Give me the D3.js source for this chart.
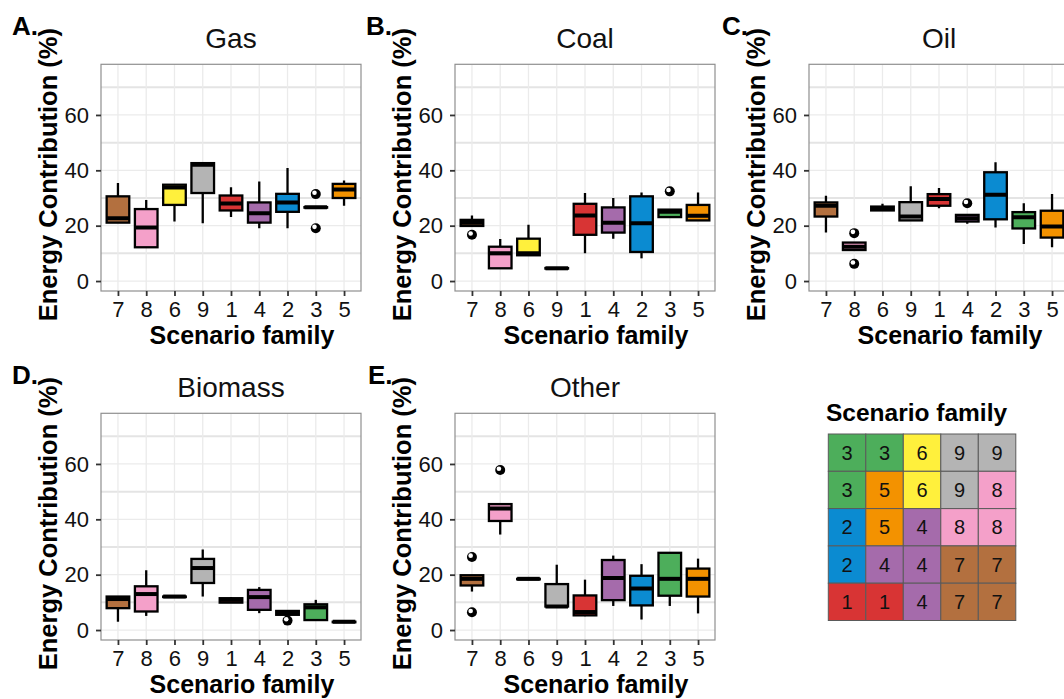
<!DOCTYPE html>
<html>
<head>
<meta charset="utf-8">
<script src="https://cdn.jsdelivr.net/npm/d3@7"></script>
<style>
    body { margin: 0; background: #fff; }
    text { font-family: "Liberation Sans", Arial, sans-serif; }
</style>
</head>
<body>
<svg id="chart" width="1064" height="699"></svg>
<script>

// scenario families, in plotting order
var families = [ '7', '8', '6', '9', '1', '4', '2', '3', '5' ];

var colorKeys = [ '1', '2', '3', '4', '5', '6', '7', '8', '9' ];
var colorValues = [ '#d83434', '#0b8bd1', '#4dae5b', '#a56bab', '#f39200', '#fff03c', '#b3703f', '#f4a0c9', '#b4b4b4' ];

var yTicks = [ 0, 20, 40, 60 ];
var yMinorTicks = [ 10, 30, 50, 70 ];

var panelNames = [ 'Gas', 'Coal', 'Oil', 'Biomass', 'Other' ];
var panelLetters = [ 'A.', 'B.', 'C.', 'D.', 'E.' ];

// [ lower whisker, q1, median, q3, upper whisker ] per family (order as families)
var gasStats = [
    [ 21.0, 21.1, 22.7, 30.6, 35.4 ],
    [ 12.2, 12.2, 19.3, 26.0, 29.3 ],
    [ 21.5, 27.5, 33.8, 34.8, 35.0 ],
    [ 20.9, 31.8, 42.0, 42.6, 42.6 ],
    [ 23.1, 25.5, 28.0, 30.9, 33.9 ],
    [ 19.1, 21.1, 24.5, 28.4, 36.0 ],
    [ 19.1, 25.0, 28.4, 31.5, 40.8 ],
    [ 26.7, 26.7, 26.7, 26.7, 26.7 ],
    [ 27.2, 30.0, 33.1, 35.1, 36.3 ]
];
var gasOutliers = [ [ '3', 31.4 ], [ '3', 19.1 ] ];

var coalStats = [
    [ 19.9, 19.9, 21.1, 22.1, 23.7 ],
    [ 4.6, 4.6, 10.0, 12.4, 15.2 ],
    [ 9.3, 9.3, 10.0, 15.3, 20.3 ],
    [ 4.5, 4.5, 4.6, 4.7, 4.7 ],
    [ 10.0, 16.7, 23.7, 27.9, 31.8 ],
    [ 15.3, 17.5, 21.1, 26.6, 30.0 ],
    [ 8.2, 10.5, 20.9, 30.6, 32.0 ],
    [ 23.1, 23.1, 25.0, 25.8, 25.8 ],
    [ 21.9, 21.9, 23.6, 27.5, 32.0 ]
];
var coalOutliers = [ [ '7', 16.7 ], [ '3', 32.4 ] ];

var oilStats = [
    [ 17.5, 23.3, 27.2, 28.4, 30.8 ],
    [ 11.2, 11.2, 12.4, 13.9, 13.9 ],
    [ 25.5, 25.5, 26.2, 26.9, 27.9 ],
    [ 21.9, 21.9, 23.3, 28.5, 34.2 ],
    [ 26.3, 27.2, 29.6, 31.4, 33.6 ],
    [ 20.7, 21.5, 22.7, 23.9, 23.9 ],
    [ 19.3, 22.3, 31.2, 39.3, 42.9 ],
    [ 13.4, 19.0, 23.0, 24.9, 28.1 ],
    [ 12.2, 15.7, 19.7, 25.4, 31.4 ]
];
var oilOutliers = [ [ '8', 17.3 ], [ '8', 6.2 ], [ '4', 28.1 ] ];

var biomassStats = [
    [ 3.0, 7.9, 11.2, 12.1, 12.1 ],
    [ 5.1, 6.7, 13.0, 15.8, 21.6 ],
    [ 12.1, 12.1, 12.1, 12.1, 12.1 ],
    [ 12.1, 17.0, 22.4, 25.7, 29.1 ],
    [ 9.9, 9.9, 10.9, 11.5, 11.9 ],
    [ 6.1, 7.3, 11.9, 14.5, 15.5 ],
    [ 5.5, 5.5, 6.3, 6.9, 6.9 ],
    [ 3.6, 3.6, 8.2, 9.3, 10.9 ],
    [ 3.0, 3.0, 3.0, 3.0, 3.0 ]
];
var biomassOutliers = [ [ '2', 3.4 ] ];

var otherStats = [
    [ 13.9, 16.1, 18.5, 19.8, 19.8 ],
    [ 34.5, 39.4, 43.9, 45.5, 45.5 ],
    [ 18.5, 18.5, 18.5, 18.5, 18.5 ],
    [ 8.5, 8.5, 8.5, 16.6, 23.6 ],
    [ 5.0, 5.3, 6.5, 12.5, 18.2 ],
    [ 8.7, 10.8, 18.8, 25.3, 26.9 ],
    [ 3.8, 8.9, 15.0, 19.6, 23.8 ],
    [ 8.7, 12.4, 18.5, 27.9, 27.9 ],
    [ 6.0, 12.1, 18.5, 22.2, 25.8 ]
];
var otherOutliers = [ [ '7', 26.4 ], [ '7', 6.4 ], [ '8', 57.8 ] ];

// legend grid, rows top to bottom
var legendGrid = [
    [ '3', '3', '6', '9', '9' ],
    [ '3', '5', '6', '9', '8' ],
    [ '2', '5', '4', '8', '8' ],
    [ '2', '4', '4', '7', '7' ],
    [ '1', '1', '4', '7', '7' ]
];

var color = d3.scaleOrdinal()
    .domain( colorKeys )
    .range( colorValues );

var svg = d3.select( '#chart' );

svg.append( 'rect' )
    .attr( 'width', 1064 )
    .attr( 'height', 699 )
    .style( 'fill', '#fff' );

var pw = 260,
    ph = 226.7;

var layout = [
    { x: 101, y: 64.3, lx: 12 },
    { x: 455, y: 64.3, lx: 366 },
    { x: 809, y: 64.3, lx: 722 },
    { x: 101, y: 413.3, lx: 12 },
    { x: 455, y: 413.3, lx: 368 }
];

var allStats = [ gasStats, coalStats, oilStats, biomassStats, otherStats ];
var allOutliers = [ gasOutliers, coalOutliers, oilOutliers, biomassOutliers, otherOutliers ];

for ( var i = 0; i < 5; i ++ ) {

    drawPanel( i, allStats[ i ], allOutliers[ i ] );

}

drawLegend();

function drawPanel ( i, stats, outliers ) {

    var left = layout[ i ].x,
        top = layout[ i ].y;

    var x = d3.scalePoint()
        .domain( families )
        .range([ left, left + pw ])
        .padding( 0.6 );

    var y = d3.scaleLinear()
        .domain([ -3.6, 78.3 ])
        .range([ top + ph, top ]);

    var bw = x.step() * 0.8;

    var g = svg.append( 'g' );

    g.append( 'defs' ).append( 'clipPath' )
        .attr( 'id', 'clip' + i )
        .append( 'rect' )
        .attr( 'x', left )
        .attr( 'y', top )
        .attr( 'width', pw )
        .attr( 'height', ph );

    var plot = g.append( 'g' )
        .attr( 'clip-path', 'url(#clip' + i + ')' );

    // grid

    plot.selectAll( '.minor' )
        .data( yMinorTicks )
        .enter().append( 'line' )
        .attr( 'x1', left )
        .attr( 'x2', left + pw )
        .attr( 'y1', function ( d ) { return y( d ) } )
        .attr( 'y2', function ( d ) { return y( d ) } )
        .style( 'stroke', '#e4e4e4' )
        .style( 'stroke-width', 2 );

    plot.selectAll( '.major' )
        .data( yTicks )
        .enter().append( 'line' )
        .attr( 'x1', left )
        .attr( 'x2', left + pw )
        .attr( 'y1', function ( d ) { return y( d ) } )
        .attr( 'y2', function ( d ) { return y( d ) } )
        .style( 'stroke', '#ebebeb' )
        .style( 'stroke-width', 1.3 );

    plot.selectAll( '.vgrid' )
        .data( families )
        .enter().append( 'line' )
        .attr( 'x1', function ( d ) { return x( d ) } )
        .attr( 'x2', function ( d ) { return x( d ) } )
        .attr( 'y1', top )
        .attr( 'y2', top + ph )
        .style( 'stroke', '#ebebeb' )
        .style( 'stroke-width', 1.3 );

    // boxes

    var box = plot.selectAll( '.box' )
        .data( families )
        .enter().append( 'g' );

    box.append( 'line' )
        .attr( 'x1', function ( d ) { return x( d ) } )
        .attr( 'x2', function ( d ) { return x( d ) } )
        .attr( 'y1', function ( d, j ) { return y( stats[ j ][ 0 ] ) } )
        .attr( 'y2', function ( d, j ) { return y( stats[ j ][ 4 ] ) } )
        .style( 'stroke', '#000' )
        .style( 'stroke-width', 2.3 );

    box.append( 'rect' )
        .attr( 'x', function ( d ) { return x( d ) - bw / 2 } )
        .attr( 'width', bw )
        .attr( 'y', function ( d, j ) { return y( stats[ j ][ 3 ] ) } )
        .attr( 'height', function ( d, j ) { return Math.max( 0.5, y( stats[ j ][ 1 ] ) - y( stats[ j ][ 3 ] ) ) } )
        .style( 'fill', function ( d ) { return color( d ) } )
        .style( 'stroke', '#000' )
        .style( 'stroke-width', 2.3 );

    box.append( 'line' )
        .attr( 'x1', function ( d ) { return x( d ) - bw / 2 } )
        .attr( 'x2', function ( d ) { return x( d ) + bw / 2 } )
        .attr( 'y1', function ( d, j ) { return y( stats[ j ][ 2 ] ) } )
        .attr( 'y2', function ( d, j ) { return y( stats[ j ][ 2 ] ) } )
        .style( 'stroke', '#000' )
        .style( 'stroke-width', 4 );

    // outliers

    var pts = plot.selectAll( '.outlier' )
        .data( outliers )
        .enter().append( 'g' )
        .attr( 'transform', function ( d ) { return 'translate(' + x( d[ 0 ] ) + ',' + y( d[ 1 ] ) + ')' } );

    pts.append( 'circle' )
        .attr( 'r', 5 )
        .style( 'fill', '#000' );

    pts.append( 'circle' )
        .attr( 'cx', -1.3 )
        .attr( 'cy', -1.3 )
        .attr( 'r', 2.3 )
        .style( 'fill', '#fff' );

    // panel border

    g.append( 'rect' )
        .attr( 'x', left )
        .attr( 'y', top )
        .attr( 'width', pw )
        .attr( 'height', ph )
        .style( 'fill', 'none' )
        .style( 'stroke', '#8f8f8f' )
        .style( 'stroke-width', 1.2 );

    // axes

    var xAxis = g.append( 'g' )
        .attr( 'transform', 'translate(0,' + ( top + ph ) + ')' )
        .call( d3.axisBottom( x ).tickSize( 5 ).tickPadding( 5 ) );

    var yAxis = g.append( 'g' )
        .attr( 'transform', 'translate(' + left + ',0)' )
        .call( d3.axisLeft( y ).tickValues( yTicks ).tickSize( 5 ).tickPadding( 7 ) );

    [ xAxis, yAxis ].forEach( function ( a ) {

        a.select( '.domain' ).remove();
        a.selectAll( 'line' )
            .style( 'stroke', '#333' )
            .style( 'stroke-width', 1.8 );
        a.selectAll( 'text' )
            .style( 'font-family', '"Liberation Sans", Arial, sans-serif' )
            .style( 'font-size', '22px' )
            .style( 'fill', '#111' );

    });

    // titles

    g.append( 'text' )
        .attr( 'x', left + pw / 2 )
        .attr( 'y', top - 16 )
        .attr( 'text-anchor', 'middle' )
        .style( 'font-size', '28px' )
        .style( 'fill', '#111' )
        .text( panelNames[ i ] );

    g.append( 'text' )
        .attr( 'x', layout[ i ].lx )
        .attr( 'y', top - 29 )
        .style( 'font-size', '26px' )
        .style( 'font-weight', 'bold' )
        .style( 'fill', '#000' )
        .text( panelLetters[ i ] );

    g.append( 'text' )
        .attr( 'x', left + pw / 2 + 11 )
        .attr( 'y', top + ph + 53 )
        .attr( 'text-anchor', 'middle' )
        .style( 'font-size', '25px' )
        .style( 'font-weight', 'bold' )
        .style( 'fill', '#000' )
        .text( 'Scenario family' );

    g.append( 'text' )
        .attr( 'transform', 'translate(' + ( left - 44 ) + ',' + ( top + ph / 2 - 3 ) + ') rotate(-90)' )
        .attr( 'text-anchor', 'middle' )
        .style( 'font-size', '25.5px' )
        .style( 'font-weight', 'bold' )
        .style( 'fill', '#000' )
        .text( 'Energy Contribution (%)' );

}

function drawLegend () {

    var lx = 828.3,
        ly = 434,
        cw = 37.5,
        ch = 37.3;

    var lg = svg.append( 'g' );

    lg.append( 'text' )
        .attr( 'x', 826 )
        .attr( 'y', 421 )
        .style( 'font-size', '24.5px' )
        .style( 'font-weight', 'bold' )
        .style( 'fill', '#000' )
        .text( 'Scenario family' );

    var cells = [];

    legendGrid.forEach( function ( row, r ) {

        row.forEach( function ( f, c ) {

            cells.push({ r: r, c: c, f: f });

        });

    });

    var cell = lg.selectAll( '.cell' )
        .data( cells )
        .enter().append( 'g' )
        .attr( 'transform', function ( d ) { return 'translate(' + ( lx + d.c * cw ) + ',' + ( ly + d.r * ch ) + ')' } );

    cell.append( 'rect' )
        .attr( 'width', cw )
        .attr( 'height', ch )
        .style( 'fill', function ( d ) { return color( d.f ) } )
        .style( 'stroke', '#5a5a5a' )
        .style( 'stroke-width', 1 );

    cell.append( 'text' )
        .attr( 'x', cw / 2 )
        .attr( 'y', ch / 2 )
        .attr( 'dy', '0.36em' )
        .attr( 'text-anchor', 'middle' )
        .style( 'font-size', '20px' )
        .style( 'fill', '#111' )
        .text( function ( d ) { return d.f } );

}

</script>
</body>
</html>
